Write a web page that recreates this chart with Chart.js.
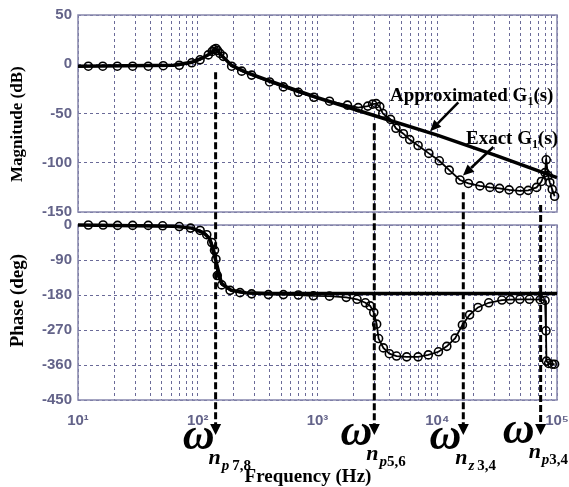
<!DOCTYPE html>
<html>
<head>
<meta charset="utf-8">
<script src="https://cdn.jsdelivr.net/npm/chart.js@4.4.1/dist/chart.umd.min.js"></script>
<style>
body{margin:0;background:#fff}
#wrap{position:relative;width:569px;height:487px}
#wrap canvas{position:absolute;left:0;top:0}
</style>
</head>
<body>
<div id="wrap">
<canvas id="mag" width="569" height="232"></canvas>
<canvas id="phase" width="569" height="487"></canvas>
</div>
<script>
'use strict'

// exact G1(s): frequency (Hz), magnitude (dB)
var magFreq = [12.2, 16.1, 21.3, 28.6, 38.6, 51.5, 70.1, 89.1, 104.5, 122.5, 132, 137, 141.9, 146, 153, 163.3, 191.9, 232.8, 281.8,
    398, 519, 692, 933, 1259, 1778, 2188, 2630, 2884, 3090, 3311, 3508, 4074, 4519, 5212, 5888, 6918, 8511,
    10400, 12590, 15490, 18200, 22750, 27540, 33110, 39810, 48980, 57540, 67610, 74130, 79430, 81280, 84140, 87100, 91200, 95500]
var magExact = [-2, -2, -2, -2, -2, -1.5, -1, 1.5, 4.5, 9.5, 13, 15, 16, 14, 11, 8, -2, -7, -11,
    -18, -23, -28.5, -33.5, -37.5, -41.5, -44, -42.5, -40.5, -40, -43, -50, -56, -65, -70.5, -76.5, -82.5, -90.5,
    -98, -107.5, -117.5, -121, -123.5, -125, -126, -127.5, -128.5, -128, -125, -119, -110, -97, -113, -120, -127, -134]

// exact G1(s): frequency (Hz), phase (deg)
var phaseFreq = [12.2, 16.2, 21.4, 28.6, 38.6, 50.9, 70.1, 87.1, 104.7, 118.9, 130.9, 138, 141.9, 145.6, 158.5, 186.2, 225.4, 281.8,
    389, 519, 692, 923, 1259, 1738, 2138, 2512, 2754, 2951, 3119, 3236, 3548, 3981, 4571, 5559, 6918, 8414,
    10230, 12020, 14130, 16220, 18620, 21880, 26920, 34670, 40740, 48980, 58880, 72440, 79430, 80900, 81660, 85110, 91200, 95500]
var phaseExact = [0, 0, -1, -1, -1, -2, -4, -8, -14, -25, -45, -65, -88, -130, -154, -168, -174, -177,
    -179, -179, -180, -182, -183, -186, -191, -200, -208, -225, -255, -292, -316, -331, -337, -339, -339, -334,
    -326, -312, -291, -257, -231, -212, -200, -193, -192, -191, -191, -192, -194, -272, -350, -356, -358, -358]

// approximated G1(s)
var approxFreq = [10, 63, 89, 112, 126, 141, 158, 191, 251, 398, 1000, 3162, 10000, 31623, 100000]
var approxMag = [-2, -1, 2, 7, 10.5, 15.5, 9, -1, -8, -17, -34, -53, -72, -93, -115]
var approxPhase = [0, -3, -8, -20, -35, -90, -150, -168, -174, -176, -176, -176, -176, -176, -176]

// axis ticks
var xTickValues = [10, 100, 1000, 10000, 100000]
var xTickLabels = ['10\u00b9', '10\u00b2', '10\u00b3', '10\u2074', '10\u2075']
var magTicks = [50, 0, -50, -100, -150]
var phaseTicks = [0, -90, -180, -270, -360, -450]

// natural frequency markers: where the dashed arrow starts (dB) and subscript
var markFreq = [141, 2980, 16500, 73000]
var markFromDb = [-8, -60, -130, -143]
var markSub = [['p', '7,8'], ['p', '5,6'], ['z', '3,4'], ['p', '3,4']]

var gridColor = '#6a6a98'
var frameColor = '#8686ac'
var labelColor = '#636389'
var serif = '"Liberation Serif", "Times New Roman", serif'
var tickFont = {family: '"Liberation Sans", Arial, sans-serif', size: 15, weight: 'bold'}

function pts(xs, ys) {
    return xs.map(function (x, i) { return {x: x, y: ys[i]} })
}

function logTicks(scale) {
    var t = []
    for (var d = 10; d < 100000; d *= 10)
        for (var k = 1; k < 10; k++) t.push({value: k * d})
    t.push({value: 100000})
    scale.ticks = t
}

function arrow(ctx, x1, y1, x2, y2, len, half) {
    var a = Math.atan2(y2 - y1, x2 - x1)
    var bx = x2 - len * Math.cos(a), by = y2 - len * Math.sin(a)
    ctx.beginPath()
    ctx.moveTo(x1, y1)
    ctx.lineTo(bx, by)
    ctx.stroke()
    ctx.beginPath()
    ctx.moveTo(x2, y2)
    ctx.lineTo(bx + half * Math.sin(a), by - half * Math.cos(a))
    ctx.lineTo(bx - half * Math.sin(a), by + half * Math.cos(a))
    ctx.closePath()
    ctx.fill()
}

var framePlugin = {
    id: 'frame',
    beforeDatasetsDraw: function (chart) {
        var a = chart.chartArea, ctx = chart.ctx
        ctx.save()
        ctx.strokeStyle = frameColor
        ctx.lineWidth = 1.5
        ctx.strokeRect(a.left, a.top, a.right - a.left, a.bottom - a.top)
        ctx.restore()
    }
}

// "Approximated G1(s)" / "Exact G1(s)" notes with arrows
var notes = [
    {text: 'Approximated G', f: 4030, db: -37, tail: [15000, -38.6], tip: [8710, -68]},
    {text: 'Exact G', f: 17380, db: -81.3, tail: [29400, -84], tip: [16400, -113]}
]
var notePlugin = {
    id: 'notes',
    afterDatasetsDraw: function (chart) {
        var ctx = chart.ctx, xs = chart.scales.x, ys = chart.scales.y
        ctx.save()
        ctx.fillStyle = '#000'
        ctx.strokeStyle = '#000'
        ctx.lineWidth = 2.5
        ctx.textBaseline = 'alphabetic'
        notes.forEach(function (n) {
            var x = xs.getPixelForValue(n.f), y = ys.getPixelForValue(n.db)
            ctx.font = 'bold 19px ' + serif
            ctx.fillText(n.text, x, y)
            x += ctx.measureText(n.text).width
            ctx.font = 'bold 12px ' + serif
            ctx.fillText('1', x, y + 4)
            x += ctx.measureText('1').width
            ctx.font = 'bold 19px ' + serif
            ctx.fillText('(s)', x, y)
            arrow(ctx, xs.getPixelForValue(n.tail[0]), ys.getPixelForValue(n.tail[1]),
                xs.getPixelForValue(n.tip[0]), ys.getPixelForValue(n.tip[1]), 11, 5)
        })
        ctx.restore()
    }
}

function makeScales(yTicks, title, titleSize, showX) {
    return {
        x: {
            type: 'logarithmic', min: 10, max: 100000,
            afterBuildTicks: logTicks,
            afterFit: function (s) {
                s.height = showX ? 87 : 0
                s.paddingLeft = 0
                s.paddingRight = 0
            },
            grid: {color: gridColor, lineWidth: 1, drawTicks: false},
            border: {display: false, dash: [3, 3]},
            ticks: {
                display: showX, autoSkip: false, maxRotation: 0, padding: 12,
                color: labelColor, font: tickFont,
                callback: function (v) {
                    var i = xTickValues.indexOf(v)
                    return i < 0 ? '' : xTickLabels[i]
                }
            },
            title: {
                display: showX, text: 'Frequency (Hz)\u00a0\u00a0\u00a0\u00a0', color: '#000',
                font: {family: serif, size: 19, weight: 'bold', lineHeight: 1}, padding: 0
            }
        },
        y: {
            min: yTicks[yTicks.length - 1], max: yTicks[0],
            afterBuildTicks: function (s) { s.ticks = yTicks.map(function (v) { return {value: v} }) },
            afterFit: function (s) { s.width = 78 },
            grid: {color: gridColor, lineWidth: 1, drawTicks: false},
            border: {display: false, dash: [3, 3]},
            ticks: {color: labelColor, font: tickFont, padding: 6, callback: function (v) { return String(v) }},
            title: {
                display: true, text: title, color: '#000',
                font: {family: serif, size: titleSize, weight: 'bold'}, padding: {top: 7, bottom: 0}
            }
        }
    }
}

function exactSet(data) {
    return {data: data, borderColor: '#000', borderWidth: 1.8, pointRadius: 4, pointBorderWidth: 1.6,
        pointBorderColor: '#000', pointBackgroundColor: 'rgba(0,0,0,0)', clip: false}
}
function approxSet(data) {
    return {data: data, borderColor: '#000', borderWidth: 3.5, pointRadius: 0, clip: false}
}

var magChart = new Chart(document.getElementById('mag'), {
    type: 'line',
    data: {datasets: [exactSet(pts(magFreq, magExact)), approxSet(pts(approxFreq, approxMag))]},
    options: {
        responsive: false, animation: false, events: [],
        layout: {padding: {top: 14, right: 12, bottom: 20, left: 0}, autoPadding: false},
        plugins: {legend: {display: false}, tooltip: {enabled: false}},
        scales: makeScales(magTicks, 'Magnitude (dB)\u00a0\u00a0\u00a0\u00a0\u00a0', 17, false)
    },
    plugins: [framePlugin, notePlugin]
})

// dashed arrows from the magnitude curve down to the omega labels
// per-label nudges (px) so the subscripts sit as in the figure
var labelDx = [0, -1, -1, -5]
var labelDy = [0, -4, 0, -6]
var subGap = [3, 0, 3, 0]

var markPlugin = {
    id: 'marks',
    afterDraw: function (chart) {
        var ctx = chart.ctx, xs = chart.scales.x, ym = magChart.scales.y
        var bottom = chart.chartArea.bottom
        var tip = bottom + 35
        ctx.save()
        ctx.fillStyle = '#000'
        ctx.strokeStyle = '#000'
        markFreq.forEach(function (f, i) {
            var x = xs.getPixelForValue(f)
            ctx.lineWidth = 3
            ctx.setLineDash([7, 3])
            ctx.beginPath()
            ctx.moveTo(x, ym.getPixelForValue(markFromDb[i]))
            ctx.lineTo(x, tip - 10)
            ctx.stroke()
            ctx.setLineDash([])
            ctx.beginPath()
            ctx.moveTo(x - 5.5, tip - 11)
            ctx.lineTo(x + 5.5, tip - 11)
            ctx.lineTo(x, tip)
            ctx.closePath()
            ctx.fill()

            var lx = x + labelDx[i], ly = bottom + labelDy[i]
            ctx.textBaseline = 'alphabetic'
            ctx.textAlign = 'center'
            ctx.font = 'bold italic 44px ' + serif
            ctx.fillText('\u03c9', lx - 17, ly + 49)
            ctx.textAlign = 'left'
            ctx.font = 'bold italic 22px ' + serif
            var nx = lx - 7
            ctx.fillText('n', nx, ly + 64)
            nx += ctx.measureText('n').width + 1
            ctx.font = 'bold italic 15px ' + serif
            ctx.fillText(markSub[i][0], nx, ly + 70)
            nx += ctx.measureText(markSub[i][0]).width + subGap[i]
            ctx.font = 'bold 15px ' + serif
            ctx.fillText(markSub[i][1], nx, ly + 70)
        })
        ctx.restore()
    }
}

var phaseChart = new Chart(document.getElementById('phase'), {
    type: 'line',
    data: {datasets: [exactSet(pts(phaseFreq, phaseExact)), approxSet(pts(approxFreq, approxPhase))]},
    options: {
        responsive: false, animation: false, events: [],
        layout: {padding: {top: 225, right: 12, bottom: 0, left: 0}, autoPadding: false},
        plugins: {legend: {display: false}, tooltip: {enabled: false}},
        scales: makeScales(phaseTicks, '\u00a0\u00a0\u00a0\u00a0\u00a0Phase (deg)', 19, true)
    },
    plugins: [framePlugin, markPlugin]
})
</script>
</body>
</html>
